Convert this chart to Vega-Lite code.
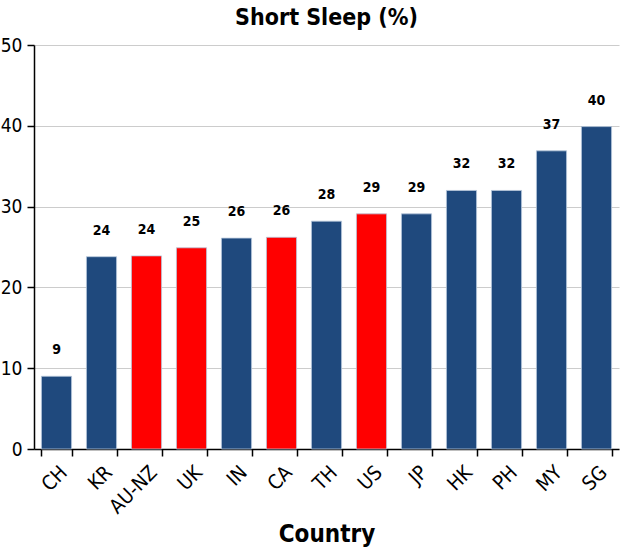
{
  "$schema": "https://vega.github.io/schema/vega-lite/v6.json",
  "autosize": "none",
  "width": 585,
  "height": 404,
  "padding": {"left": 34, "top": 45, "right": 1, "bottom": 100},
  "background": "white",
  "config": {
    "font": "DejaVu Sans Condensed, Liberation Sans",
    "view": {"stroke": null}
  },
  "title": {
    "text": "Short Sleep (%)",
    "fontSize": 23,
    "fontWeight": "bold",
    "color": "black",
    "anchor": "middle",
    "offset": 6
  },
  "data": {
    "values": [
      {"country": "CH", "value": 9.0, "group": "Asia"},
      {"country": "KR", "value": 23.8, "group": "Asia"},
      {"country": "AU-NZ", "value": 23.9, "group": "West"},
      {"country": "UK", "value": 24.9, "group": "West"},
      {"country": "IN", "value": 26.1, "group": "Asia"},
      {"country": "CA", "value": 26.2, "group": "West"},
      {"country": "TH", "value": 28.2, "group": "Asia"},
      {"country": "US", "value": 29.1, "group": "West"},
      {"country": "JP", "value": 29.1, "group": "Asia"},
      {"country": "HK", "value": 32.0, "group": "Asia"},
      {"country": "PH", "value": 32.0, "group": "Asia"},
      {"country": "MY", "value": 36.9, "group": "Asia"},
      {"country": "SG", "value": 39.9, "group": "Asia"}
    ]
  },
  "encoding": {
    "x": {
      "field": "country",
      "type": "nominal",
      "sort": null,
      "scale": {"paddingInner": 0.33, "paddingOuter": 0.165},
      "axis": {
        "title": "Country",
        "titleFontSize": 24,
        "titleFontWeight": "bold",
        "titleColor": "black",
        "titlePadding": 6,
        "labelAngle": -45,
        "labelFontSize": 20,
        "labelColor": "black",
        "labelPadding": 6,
        "tickBand": "extent",
        "tickSize": 7,
        "tickColor": "black",
        "domainColor": "black",
        "domainWidth": 1.5,
        "tickWidth": 1.5
      }
    }
  },
  "layer": [
    {
      "mark": {"type": "bar", "stroke": "#b8c8dc", "strokeWidth": 0.8},
      "encoding": {
        "y": {
          "field": "value",
          "type": "quantitative",
          "scale": {"domain": [0, 50]},
          "axis": {
            "title": null,
            "values": [0, 10, 20, 30, 40, 50],
            "labelFontSize": 19,
            "labelColor": "black",
            "labelPadding": 5,
            "tickSize": 7,
            "tickColor": "black",
            "tickWidth": 1.5,
            "domainColor": "black",
            "domainWidth": 1.5,
            "gridColor": "#cccccc",
            "gridWidth": 1.2
          }
        },
        "color": {
          "field": "group",
          "type": "nominal",
          "scale": {"domain": ["Asia", "West"], "range": ["#1f497d", "#ff0000"]},
          "legend": null
        }
      }
    },
    {
      "mark": {"type": "text", "baseline": "bottom", "dy": -19, "fontSize": 14, "fontWeight": "bold", "color": "black"},
      "encoding": {
        "y": {"field": "value", "type": "quantitative"},
        "text": {"field": "value", "type": "quantitative", "format": ".0f"}
      }
    }
  ]
}
